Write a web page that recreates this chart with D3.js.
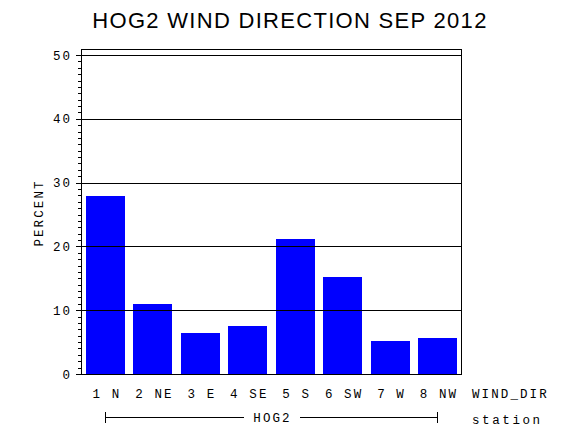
<!DOCTYPE html>
<html>
<head>
<meta charset="utf-8">
<script src="https://cdn.jsdelivr.net/npm/d3@7"></script>
<style>
  body { margin: 0; background: #fff; }
  text { fill: #000; }
  .lab { font-family: "Liberation Mono", "DejaVu Sans Mono", monospace; font-size: 12.5px; letter-spacing: 2.1px; }
</style>
</head>
<body>
<script>
// data
const directions = ["1 N", "2 NE", "3 E", "4 SE", "5 S", "6 SW", "7 W", "8 NW"];
const percent = [27.9, 11.0, 6.4, 7.5, 21.2, 15.2, 5.2, 5.7];
const yTicks = [0, 10, 20, 30, 40, 50];
const yMax = 51;
const stationName = "HOG2";
const titleText = "HOG2 WIND DIRECTION SEP 2012";

const W = 570, H = 430;
const left = 81, right = 461, bottom = 374;

const svg = d3.select("body").append("svg")
  .attr("width", W)
  .attr("height", H)
  .attr("shape-rendering", "crispEdges");

const x = d3.scaleBand()
  .domain(directions)
  .range([86, 457])
  .paddingInner(0.177)
  .paddingOuter(0);

const y = d3.scaleLinear()
  .domain([0, 50])
  .range([bottom, 55]);

// title
svg.append("text")
  .attr("x", 290)
  .attr("y", 27.5)
  .attr("text-anchor", "middle")
  .style("font-family", "'Liberation Sans', Arial, sans-serif")
  .style("font-size", "22px")
  .style("letter-spacing", "1.3px")
  .text(titleText);

// bars
svg.selectAll("rect.bar")
  .data(percent)
  .enter()
  .append("rect")
  .attr("class", "bar")
  .attr("x", (d, i) => x(directions[i]))
  .attr("y", d => y(d))
  .attr("width", x.bandwidth())
  .attr("height", d => bottom - y(d))
  .attr("fill", "#0000ff");

// grid lines at major ticks (over the bars)
svg.selectAll("line.grid")
  .data(yTicks.filter(d => d > 0))
  .enter()
  .append("line")
  .attr("x1", left).attr("x2", right)
  .attr("y1", d => Math.round(y(d)) + 0.5)
  .attr("y2", d => Math.round(y(d)) + 0.5)
  .attr("stroke", "#000")
  .attr("stroke-width", 1.2);

// left axis with minor ticks
const yAxis = d3.axisLeft(y)
  .tickValues(yTicks)
  .tickSize(5)
  .tickFormat("");
svg.append("g")
  .attr("transform", `translate(${left},0)`)
  .call(yAxis)
  .call(g => g.select(".domain").remove());

const minor = d3.range(0, yMax).filter(v => v % 10 !== 0);
svg.append("g")
  .attr("transform", `translate(${left},0)`)
  .call(d3.axisLeft(y).tickValues(minor).tickSize(3).tickFormat(""))
  .call(g => g.select(".domain").remove());

svg.selectAll("text.ytick")
  .data(yTicks)
  .enter()
  .append("text")
  .attr("class", "lab ytick")
  .attr("x", 70)
  .attr("y", d => y(d) + 4.5)
  .attr("text-anchor", "end")
  .attr("dx", 2.1)
  .text(d => d);

// frame
svg.append("rect")
  .attr("x", left + 0.5)
  .attr("y", Math.round(y(yMax)) + 0.5)
  .attr("width", right - left)
  .attr("height", bottom - Math.round(y(yMax)))
  .attr("fill", "none")
  .attr("stroke", "#000")
  .attr("stroke-width", 1.2);

// y label
svg.append("text")
  .attr("class", "lab")
  .attr("transform", "translate(42.5,213) rotate(-90)")
  .attr("text-anchor", "middle")
  .text("PERCENT");

// x labels
svg.selectAll("text.xlab")
  .data(directions)
  .enter()
  .append("text")
  .attr("class", "lab xlab")
  .attr("x", d => x(d) + x.bandwidth() / 2 + 1.5)
  .attr("y", 397.5)
  .attr("text-anchor", "middle")
  .text(d => d);

svg.append("text")
  .attr("class", "lab")
  .attr("x", 472)
  .attr("y", 397.5)
  .text("WIND_DIR");

svg.append("text")
  .attr("class", "lab")
  .attr("x", 472)
  .attr("y", 424)
  .style("letter-spacing", "2.6px")
  .text("station");

// station bracket
const x0 = x(directions[0]) + x.bandwidth() / 2;
const x1 = x(directions[directions.length - 1]) + x.bandwidth() / 2;
const xm = (x0 + x1) / 2;
const by = 417.5;
const br = svg.append("g").attr("stroke", "#000").attr("stroke-width", 1);
br.append("line").attr("x1", x0).attr("x2", xm - 28).attr("y1", by).attr("y2", by);
br.append("line").attr("x1", xm + 28).attr("x2", x1).attr("y1", by).attr("y2", by);
br.append("line").attr("x1", x0).attr("x2", x0).attr("y1", by - 5.5).attr("y2", by + 5.5);
br.append("line").attr("x1", x1).attr("x2", x1).attr("y1", by - 5.5).attr("y2", by + 5.5);
svg.append("text")
  .attr("class", "lab")
  .attr("x", xm + 1)
  .attr("y", by + 4.5)
  .attr("text-anchor", "middle")
  .text(stationName);
</script>
</body>
</html>
